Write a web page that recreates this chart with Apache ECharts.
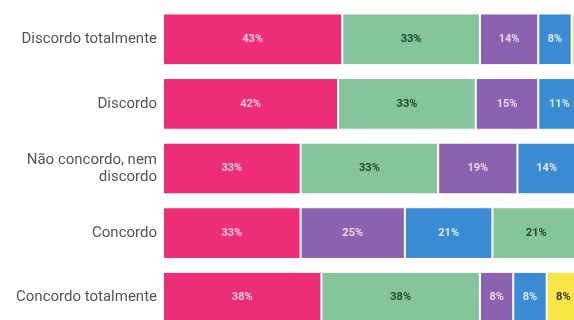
<!DOCTYPE html>
<html>
<head>
<meta charset="utf-8">
<script src="https://cdn.jsdelivr.net/npm/echarts@6/dist/echarts.min.js"></script>
<style>
  html, body { margin: 0; padding: 0; background: #fff; }
  #chart { width: 574px; height: 320px; }
</style>
</head>
<body>
<div id="chart"></div>
<script>
// Response categories (top to bottom)
const categories = [
  'Discordo totalmente',
  'Discordo',
  'Não concordo, nem\ndiscordo',
  'Concordo',
  'Concordo totalmente'
];

// Share (%) of each coloured group per row
const pinkValues   = [43, 42, 33, 33, 38];
const greenValues  = [33, 33, 33, 21, 38];
const purpleValues = [14, 15, 19, 25, 8];
const blueValues   = [8, 11, 14, 21, 8];
const yellowValues = [2, 0, 0, 0, 8];

// Left-to-right order of the groups within each row
const rowOrder = [
  ['pink', 'green', 'purple', 'blue', 'yellow'],
  ['pink', 'green', 'purple', 'blue', 'yellow'],
  ['pink', 'green', 'purple', 'blue', 'yellow'],
  ['pink', 'purple', 'blue', 'green', 'yellow'],
  ['pink', 'green', 'purple', 'blue', 'yellow']
];

const groups = {
  pink:   { values: pinkValues,   color: '#EE2D78', text: '#F9C9DD' },
  green:  { values: greenValues,  color: '#86C49B', text: '#1E4A2C' },
  purple: { values: purpleValues, color: '#8A62B0', text: '#E6D9F3' },
  blue:   { values: blueValues,   color: '#3A8BD2', text: '#D9ECFB' },
  yellow: { values: yellowValues, color: '#F8E646', text: '#3A3510' }
};

// One stacked series per segment position, coloured per row
const series = [0, 1, 2, 3, 4].map(pos => ({
  type: 'bar',
  stack: 'total',
  barCategoryGap: '20%',
  data: categories.map((c, row) => {
    const g = groups[rowOrder[row][pos]];
    const v = g.values[row];
    return {
      value: v,
      itemStyle: { color: g.color, borderColor: '#ffffff', borderWidth: 1 },
      label: { show: v >= 5, color: g.text }
    };
  }),
  label: {
    show: true,
    position: 'inside',
    formatter: '{c}%',
    fontFamily: 'Roboto',
    fontWeight: 'bold',
    fontSize: 11
  }
}));

const chart = echarts.init(document.getElementById('chart'));
chart.setOption({
  animation: false,
  grid: {
    left: 163, top: 7, width: 417, height: 323,
    containLabel: false,
    outerBoundsMode: 'none'
  },
  xAxis: {
    type: 'value',
    min: 0,
    max: 100,
    show: false
  },
  yAxis: {
    type: 'category',
    inverse: true,
    data: categories,
    axisLine: { show: false },
    axisTick: { show: false },
    axisLabel: {
      margin: 6,
      color: '#555555',
      fontFamily: 'Roboto',
      fontSize: 15,
      lineHeight: 17,
      align: 'right'
    }
  },
  series: series
});
</script>
</body>
</html>
